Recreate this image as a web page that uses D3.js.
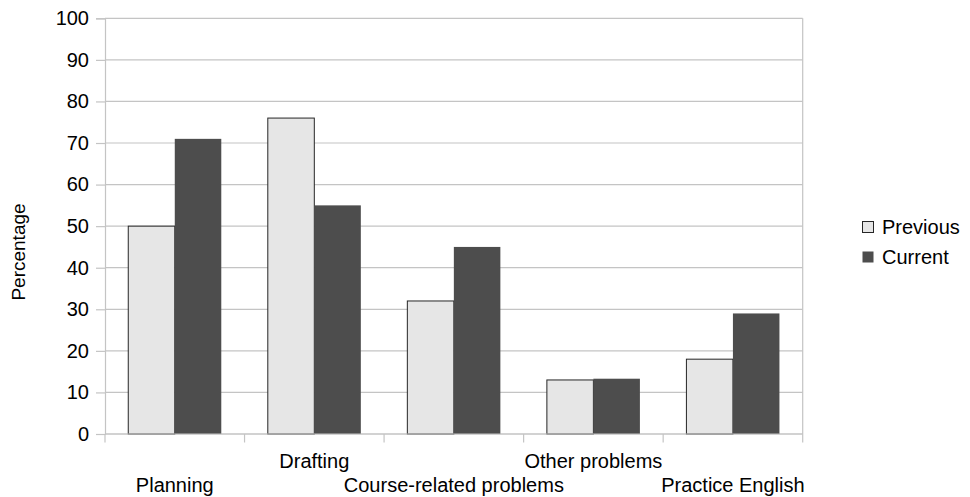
<!DOCTYPE html>
<html>
<head>
<meta charset="utf-8">
<script src="https://cdn.jsdelivr.net/npm/d3@7"></script>
<style>
  html, body { margin: 0; padding: 0; background: #fff; }
  svg { display: block; font-family: "Liberation Sans", Arial, sans-serif; }
</style>
</head>
<body>
<svg id="chart" width="970" height="497"></svg>
<script>
// Share of respondents naming each problem area, previous vs current survey
const categories = ["Planning", "Drafting", "Course-related problems", "Other problems", "Practice English"];
const previousValues = [50, 76, 32, 13, 18];
const currentValues = [71, 55, 45, 13.3, 29];
const seriesNames = ["Previous", "Current"];
const yTicks = [0, 10, 20, 30, 40, 50, 60, 70, 80, 90, 100];

const colors = { Previous: "#e6e6e6", Current: "#4d4d4d" };
const gridColor = "#c4c4c4";

const plot = { left: 105, right: 802.7, top: 18.3, bottom: 434 };

const svg = d3.select("#chart");

const y = d3.scaleLinear().domain([0, 100]).range([plot.bottom, plot.top]);
const x = d3.scaleBand()
  .domain(categories)
  .range([plot.left, plot.right])
  .paddingInner(1 / 3)
  .paddingOuter(1 / 6);
const xSeries = d3.scaleBand().domain(seriesNames).range([0, x.bandwidth()]);

// horizontal gridlines
svg.append("g")
  .selectAll("line")
  .data(yTicks)
  .join("line")
  .attr("x1", plot.left)
  .attr("x2", plot.right)
  .attr("y1", d => y(d))
  .attr("y2", d => y(d))
  .attr("stroke", gridColor)
  .attr("stroke-width", 1.2);

// right border of the plot wall
svg.append("line")
  .attr("x1", plot.right).attr("x2", plot.right)
  .attr("y1", plot.top).attr("y2", plot.bottom)
  .attr("stroke", gridColor).attr("stroke-width", 1.2);

// bars
const rows = categories.map((c, i) => ({ category: c, Previous: previousValues[i], Current: currentValues[i] }));
const groups = svg.append("g")
  .selectAll("g")
  .data(rows)
  .join("g")
  .attr("transform", d => `translate(${x(d.category)},0)`);

groups.selectAll("rect")
  .data(d => seriesNames.map(s => ({ series: s, value: d[s] })))
  .join("rect")
  .attr("x", d => xSeries(d.series))
  .attr("y", d => y(d.value))
  .attr("width", xSeries.bandwidth())
  .attr("height", d => y(0) - y(d.value))
  .attr("fill", d => colors[d.series])
  .attr("stroke", d => d.series === "Previous" ? "#262626" : "none")
  .attr("stroke-width", 1);

// y axis
const yAxis = d3.axisLeft(y).tickValues(yTicks).tickSize(9).tickPadding(7).tickFormat(d3.format("d"));
const gy = svg.append("g").attr("transform", `translate(${plot.left},0)`).call(yAxis);
gy.select(".domain").attr("stroke", gridColor).attr("stroke-width", 1.2);
gy.selectAll(".tick line").attr("stroke", gridColor).attr("stroke-width", 1.2);
gy.selectAll(".tick text")
  .attr("fill", "#000")
  .style("font-size", "20px")
  .style("font-family", "'Liberation Sans', Arial, sans-serif");

// x axis: baseline and ticks at category boundaries
const step = x.step();
const boundaries = d3.range(categories.length + 1).map(i => plot.left + i * step);
svg.append("line")
  .attr("x1", plot.left).attr("x2", plot.right)
  .attr("y1", plot.bottom).attr("y2", plot.bottom)
  .attr("stroke", gridColor).attr("stroke-width", 1.2);
svg.append("g")
  .selectAll("line")
  .data(boundaries)
  .join("line")
  .attr("x1", d => d).attr("x2", d => d)
  .attr("y1", plot.bottom).attr("y2", plot.bottom + 8.5)
  .attr("stroke", gridColor).attr("stroke-width", 1.2);

// staggered category labels
svg.append("g")
  .selectAll("text")
  .data(categories)
  .join("text")
  .attr("x", d => x(d) + x.bandwidth() / 2)
  .attr("y", (d, i) => i % 2 === 0 ? 491.5 : 467.5)
  .attr("text-anchor", "middle")
  .style("font-size", "20px")
  .attr("fill", "#000")
  .text(d => d);

// y axis title
svg.append("text")
  .attr("transform", "translate(25,252) rotate(-90)")
  .attr("text-anchor", "middle")
  .style("font-size", "19px")
  .attr("fill", "#000")
  .text("Percentage");

// legend
const legend = svg.append("g")
  .selectAll("g")
  .data(seriesNames)
  .join("g")
  .attr("transform", (d, i) => `translate(862,${227 + i * 30})`);
legend.append("rect")
  .attr("x", 0.5).attr("y", -5.5)
  .attr("width", 11).attr("height", 11)
  .attr("fill", d => colors[d])
  .attr("stroke", d => d === "Previous" ? "#262626" : "none");
legend.append("text")
  .attr("x", 20)
  .attr("y", 0)
  .attr("dy", "0.35em")
  .style("font-size", "20px")
  .attr("fill", "#000")
  .text(d => d);
</script>
</body>
</html>
